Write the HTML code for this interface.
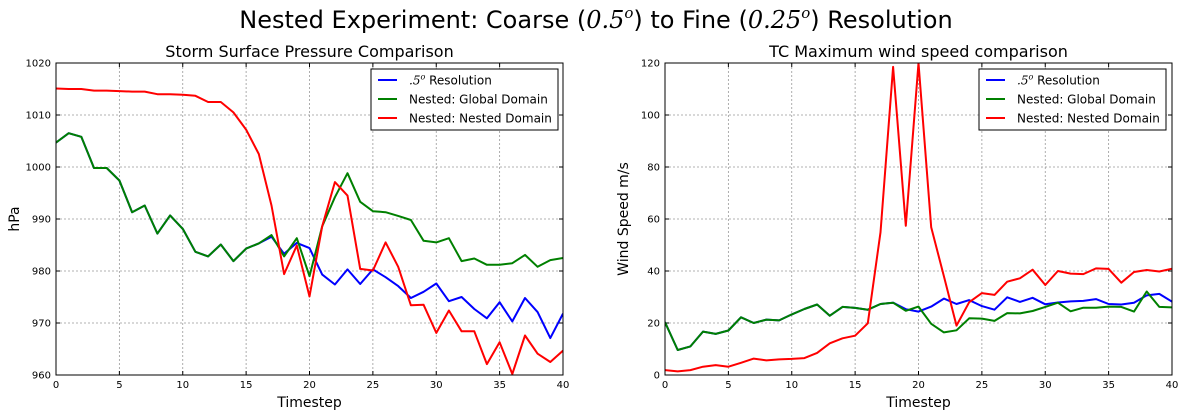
<!DOCTYPE html>
<html><head><meta charset="utf-8"><style>
body{margin:0;background:#fff;}
svg{display:block;font-family:"DejaVu Sans","Liberation Sans",sans-serif;}
</style></head><body>
<svg id="fig" width="1185" height="416" viewBox="0 0 1185 416" xmlns="http://www.w3.org/2000/svg">
<rect width="1185" height="416" fill="#fff"/>
<text x="596" y="28" font-size="24" text-anchor="middle">Nested Experiment: Coarse (<tspan font-family="DejaVu Serif,serif" font-style="italic">0.5</tspan><tspan font-family="DejaVu Serif,serif" font-style="italic" font-size="15" dy="-10">o</tspan><tspan dy="10">) to Fine (</tspan><tspan font-family="DejaVu Serif,serif" font-style="italic">0.25</tspan><tspan font-family="DejaVu Serif,serif" font-style="italic" font-size="15" dy="-10">o</tspan><tspan dy="10">) Resolution</tspan></text>
<g id="p1"></g><g id="p2"></g>
</svg>
<script>
const timesteps = Array.from({length:41},(_,i)=>i);
const pressCoarse = [1004.7,1006.5,1005.8,999.8,999.8,997.4,991.3,992.6,987.2,990.7,988.1,983.7,982.8,985.1,981.9,984.3,985.3,986.6,983.3,985.4,984.4,979.3,977.4,980.3,977.5,980.3,978.8,977.1,974.8,976.0,977.6,974.2,975.0,972.7,970.9,974.0,970.3,974.8,972.1,967.1,971.8];
const pressGlobal = [1004.7,1006.5,1005.8,999.8,999.8,997.4,991.3,992.6,987.2,990.7,988.1,983.7,982.8,985.1,981.9,984.3,985.3,986.9,982.8,986.3,979.0,988.6,994.2,998.8,993.3,991.5,991.3,990.6,989.8,985.8,985.5,986.3,981.9,982.4,981.2,981.2,981.5,983.1,980.8,982.1,982.5];
const pressNested = [1015.1,1015.0,1015.0,1014.7,1014.7,1014.6,1014.5,1014.5,1014.0,1014.0,1013.9,1013.7,1012.5,1012.5,1010.5,1007.2,1002.5,992.6,979.4,984.9,975.1,988.6,997.1,994.5,980.4,980.1,985.5,980.8,973.4,973.5,968.1,972.4,968.4,968.4,962.1,966.3,960.2,967.6,964.1,962.5,964.7];
const windCoarse = [20.3,9.6,11.0,16.7,15.8,17.1,22.2,20.0,21.3,21.0,23.3,25.4,27.1,22.8,26.2,25.8,25.1,27.3,27.8,25.3,24.4,26.3,29.4,27.3,28.8,26.5,25.1,29.9,28.1,29.7,27.2,27.9,28.3,28.5,29.2,27.3,27.1,27.8,30.6,31.2,28.2];
const windGlobal = [20.3,9.6,11.0,16.7,15.8,17.1,22.2,20.0,21.3,21.0,23.3,25.4,27.1,22.8,26.2,25.8,25.1,27.3,27.8,24.7,26.3,19.7,16.4,17.2,21.8,21.7,20.8,23.8,23.7,24.6,26.2,27.8,24.5,25.9,25.9,26.3,26.2,24.4,32.1,26.2,26.0];
const windNested = [1.9,1.4,1.9,3.2,3.8,3.2,4.7,6.3,5.6,6.0,6.2,6.5,8.5,12.2,14.1,15.1,19.9,54.9,118.5,57.4,120,56.8,38.0,19.0,28.0,31.5,30.8,35.9,37.2,40.5,34.6,40.0,39.0,38.8,41.0,40.8,35.5,39.6,40.4,39.8,40.9];
const xTicks = [0,5,10,15,20,25,30,35,40];
const pressTicks = [960,970,980,990,1000,1010,1020];
const windTicks = [0,20,40,60,80,100,120];
const legendLabels = ["Resolution","Nested: Global Domain","Nested: Nested Domain"];
const colors = ["#0000ff","#008000","#ff0000"];
const NS="http://www.w3.org/2000/svg";
function mk(p,tag,attrs){const e=document.createElementNS(NS,tag);for(const k in attrs)e.setAttribute(k,attrs[k]);p.appendChild(e);return e;}
function panel(g,x0,x1,y0,y1,ymin,ymax,yt,series,title,ylab,lx,name){
  const X=v=>x0+(v-0)/(40-0)*(x1-x0);
  const Y=v=>y1-(v-ymin)/(ymax-ymin)*(y1-y0);
  
  
  xTicks.forEach(t=>{
    const l=mk(g,'line',{x1:X(t),x2:X(t),y1:y0,y2:y1,stroke:'#999','stroke-dasharray':'2,2','stroke-width':0.8});
    
    
    const tk=mk(g,'text',{x:X(t),y:y1+13,'font-size':10,'text-anchor':'middle'});tk.textContent=t;
    
    
    mk(g,'line',{x1:X(t),x2:X(t),y1:y0,y2:y0+4,stroke:'#000'});mk(g,'line',{x1:X(t),x2:X(t),y1:y1,y2:y1-4,stroke:'#000'});
  });
  yt.forEach(t=>{
    const l=mk(g,'line',{x1:x0,x2:x1,y1:Y(t),y2:Y(t),stroke:'#999','stroke-dasharray':'2,2','stroke-width':0.8});
    
    
    const tk=mk(g,'text',{x:x0-5,y:Y(t)+3.5,'font-size':10,'text-anchor':'end'});tk.textContent=t;
    
    
    mk(g,'line',{x1:x0,x2:x0+4,y1:Y(t),y2:Y(t),stroke:'#000'});mk(g,'line',{x1:x1,x2:x1-4,y1:Y(t),y2:Y(t),stroke:'#000'});
  });
  const cp='clip'+name;
  const d=mk(g,'clipPath',{id:cp});mk(d,'rect',{x:x0,y:y0,width:x1-x0,height:y1-y0});
  series.forEach((s,i)=>{
    const pts=s.map((v,j)=>X(timesteps[j]).toFixed(1)+','+Y(v).toFixed(1)).join(' ');
    const pl=mk(g,'polyline',{points:pts,fill:'none',stroke:colors[i],'stroke-width':2,'clip-path':'url(#'+cp+')','stroke-linejoin':'round'});
    
    
  });
  const fr=mk(g,'rect',{x:x0,y:y0,width:x1-x0,height:y1-y0,fill:'none',stroke:'#000','stroke-width':1});
  
  
  const tt=mk(g,'text',{x:(x0+x1)/2,y:y0-6,'font-size':16,'text-anchor':'middle'});tt.textContent=title;
  
  
  const xl=mk(g,'text',{x:(x0+x1)/2,y:y1+32,'font-size':14,'text-anchor':'middle'});xl.textContent='Timestep';
  
  
  const yl=mk(g,'text',{x:0,y:0,'font-size':14,'text-anchor':'middle',transform:`translate(${x0-37},${(y0+y1)/2}) rotate(-90)`});yl.textContent=ylab;
  
  
  const lg=mk(g,'g',{});
  
  
  mk(lg,'rect',{x:lx,y:69,width:187,height:61,fill:'#fff',stroke:'#000'});
  legendLabels.forEach((lab,i)=>{
    const yy=80+i*19;
    mk(lg,'line',{x1:lx+7,x2:lx+26,y1:yy,y2:yy,stroke:colors[i],'stroke-width':2});
    const t=mk(lg,'text',{x:lx+38,y:yy+4.5,'font-size':12});
    
    
    if(i===0){t.innerHTML='<tspan font-family="DejaVu Serif,serif" font-style="italic">.5</tspan><tspan font-family="DejaVu Serif,serif" font-style="italic" font-size="8" dy="-5">o</tspan><tspan dy="5"> Resolution</tspan>';}
    else t.textContent=lab;
  });
}
panel(document.getElementById('p1'),56,563,63,375,960,1020,pressTicks,[pressCoarse,pressGlobal,pressNested],'Storm Surface Pressure Comparison','hPa',371,'pressure-panel');
panel(document.getElementById('p2'),665,1172,63,375,0,120,windTicks,[windCoarse,windGlobal,windNested],'TC Maximum wind speed comparison','Wind Speed m/s',979,'wind-panel');
</script>
</body></html>
